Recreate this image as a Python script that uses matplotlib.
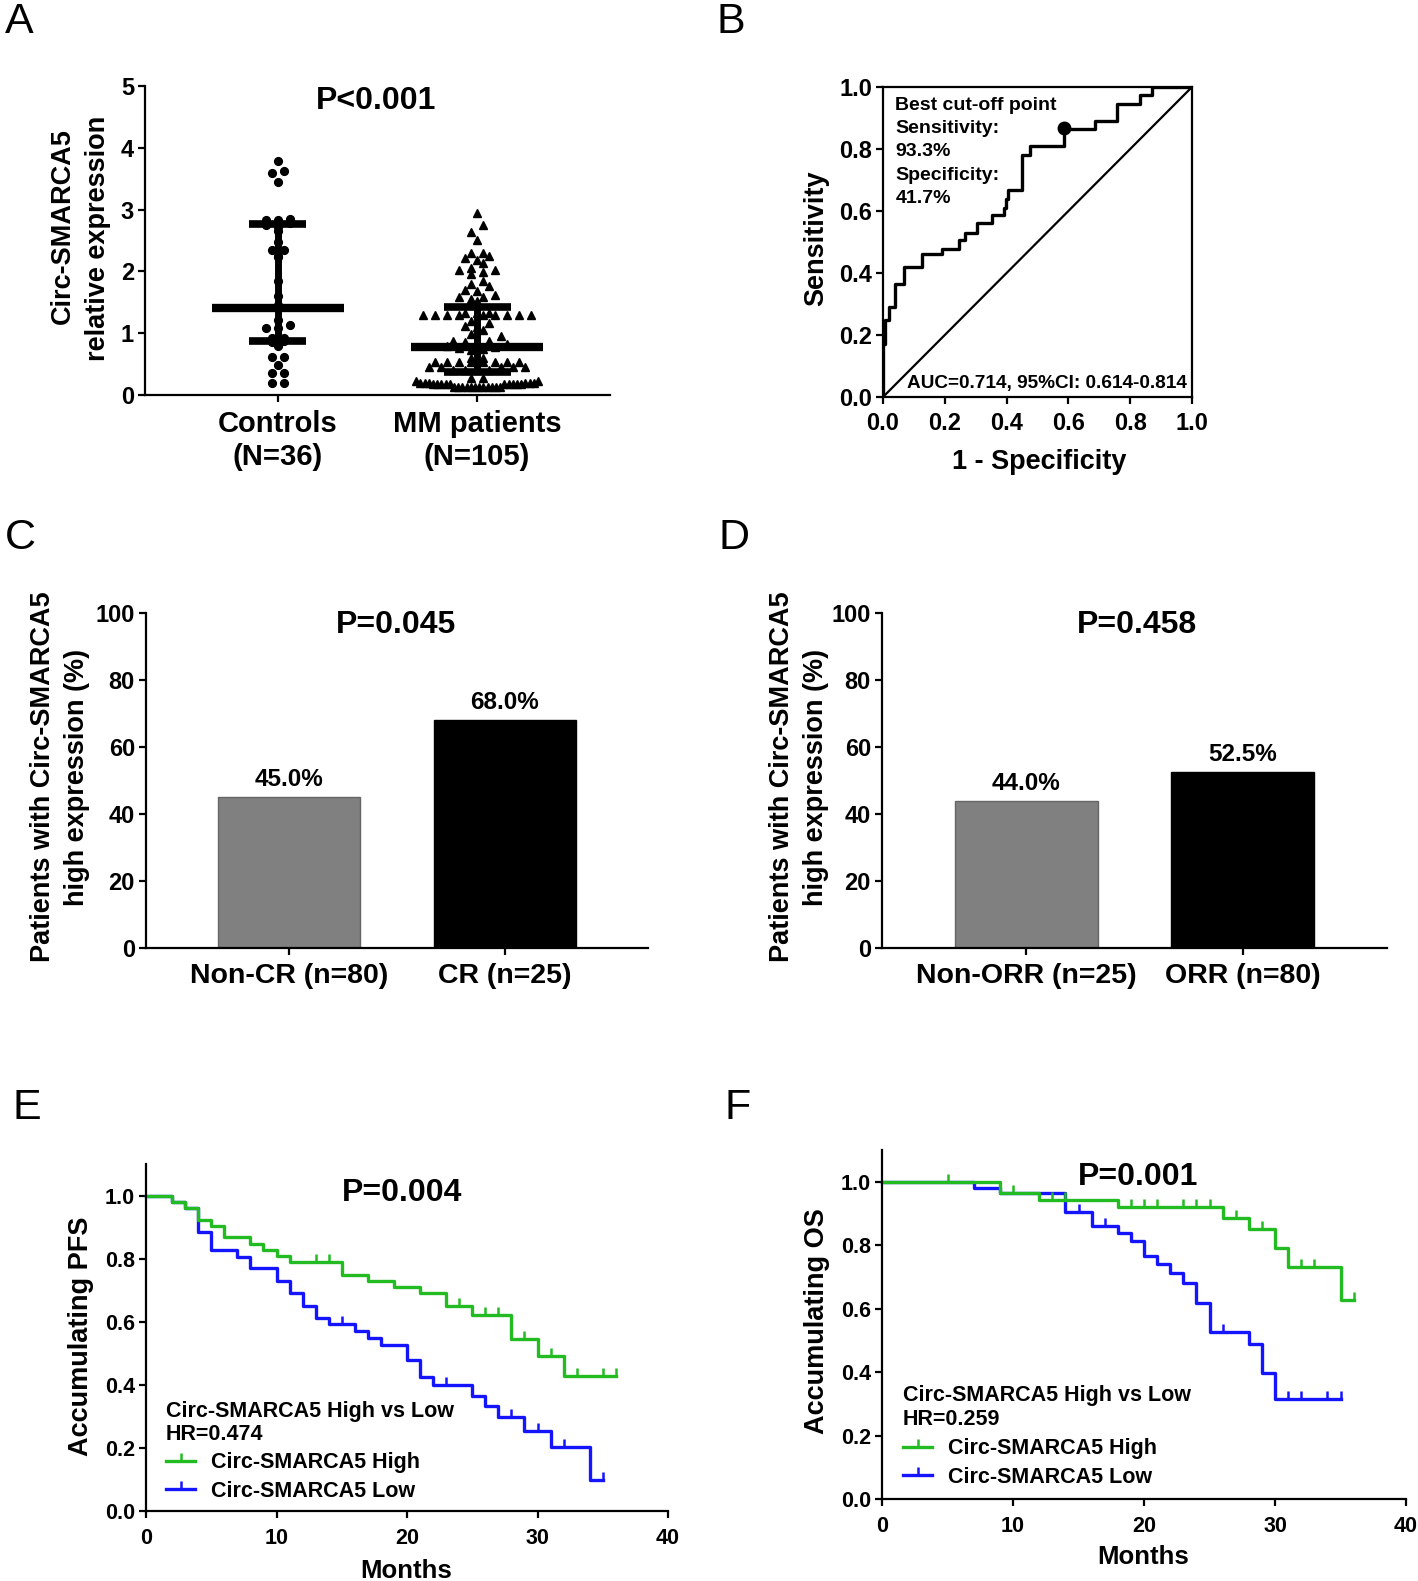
import numpy as np
import matplotlib
matplotlib.use('Agg')
import matplotlib.pyplot as plt
from matplotlib.path import Path
from matplotlib.lines import Line2D

# ---------------- data ----------------
groups_A = ["Controls\n(N=36)", "MM patients\n(N=105)"]
controls_vals = [3.78, 3.62, 3.60, 3.45, 2.84, 2.83, 2.83, 2.78, 2.75, 2.72, 2.65,
                 2.48, 2.35, 2.35, 2.25, 2.24, 1.85, 1.60, 1.45, 1.43, 1.22, 1.13,
                 1.08, 1.08, 0.92, 0.92, 0.88, 0.85, 0.80, 0.62, 0.62, 0.48, 0.36,
                 0.36, 0.19, 0.19]
mm_vals = [2.94, 2.75, 2.64, 2.51, 2.30, 2.29, 2.25, 2.21, 2.18, 2.13, 2.06, 2.02,
           2.02, 1.99, 1.96, 1.85, 1.80, 1.76, 1.70, 1.69, 1.62, 1.59, 1.58, 1.56,
           1.52,
           1.33, 1.33, 1.32, 1.30, 1.30, 1.30, 1.30, 1.30, 1.29, 1.29, 1.29, 1.29,
           1.20, 1.17, 1.12, 1.10, 1.05, 0.98, 0.95,
           0.87, 0.87, 0.85, 0.85, 0.82, 0.80, 0.78, 0.76, 0.75, 0.73,
           0.60, 0.60, 0.53, 0.53, 0.53, 0.53, 0.53, 0.53, 0.53, 0.53,
           0.45, 0.45, 0.45, 0.45, 0.45, 0.40, 0.40, 0.40, 0.40,
           0.27, 0.27,
           0.23, 0.23, 0.20, 0.20, 0.20, 0.20, 0.20, 0.20,
           0.17, 0.17, 0.17, 0.17, 0.17, 0.17, 0.17, 0.17, 0.17, 0.17,
           0.13, 0.13, 0.13, 0.13, 0.13, 0.13, 0.13, 0.13, 0.13, 0.13, 0.13, 0.13]
# [lower, median, upper]
controls_stats = [0.87, 1.40, 2.76]
mm_stats = [0.38, 0.78, 1.42]

# ROC: false-positive rate at which each vertical jump happens, and tpr after it
roc_fpr = [0.0, 0.0, 0.008, 0.018, 0.04, 0.067, 0.126, 0.19, 0.245, 0.266, 0.304,
           0.353, 0.39, 0.397, 0.405, 0.45, 0.477, 0.585, 0.687, 0.757, 0.833, 0.87]
roc_tpr = [0.0, 0.17, 0.247, 0.29, 0.366, 0.42, 0.46, 0.478, 0.505, 0.53, 0.56,
           0.586, 0.61, 0.64, 0.667, 0.78, 0.81, 0.865, 0.89, 0.946, 0.973, 1.0]
cutoff_point = (0.585, 0.868)

cats_C = ["Non-CR (n=80)", "CR (n=25)"]
vals_C = [45.0, 68.0]
cats_D = ["Non-ORR (n=25)", "ORR (n=80)"]
vals_D = [44.0, 52.5]
bar_colors = ["#808080", "#000000"]

pfs_high_t = [0, 2, 3, 4, 5, 6, 8, 9, 10, 11, 15, 17, 19, 21, 23, 25, 28, 30, 32, 36]
pfs_high_s = [1.0, 0.98, 0.961, 0.921, 0.902, 0.868, 0.847, 0.828, 0.809, 0.79, 0.748,
              0.729, 0.709, 0.69, 0.65, 0.621, 0.544, 0.49, 0.427, 0.427]
pfs_high_c = [13, 14, 24, 26, 27, 29, 31, 33, 35, 36]
pfs_low_t = [0, 2, 3, 4, 5, 7, 8, 10, 11, 12, 13, 14, 16, 17, 18, 20, 21, 22, 25, 26,
             27, 29, 31, 34, 35]
pfs_low_s = [1.0, 0.98, 0.961, 0.886, 0.828, 0.805, 0.769, 0.729, 0.69, 0.65, 0.613,
             0.592, 0.571, 0.547, 0.525, 0.478, 0.425, 0.398, 0.366, 0.334, 0.297,
             0.255, 0.202, 0.098, 0.098]
pfs_low_c = [15, 23, 28, 30, 32, 35]

os_high_t = [0, 9, 12, 18, 26, 28, 30, 31, 35, 36]
os_high_s = [1.0, 0.963, 0.942, 0.919, 0.887, 0.85, 0.79, 0.732, 0.626, 0.626]
os_high_c = [5, 10, 13, 14, 19, 20, 21, 23, 24, 25, 27, 29, 32, 33, 36]
os_low_t = [0, 7, 9, 14, 16, 18, 19, 20, 21, 22, 23, 24, 25, 28, 29, 30, 35]
os_low_s = [1.0, 0.98, 0.963, 0.905, 0.861, 0.837, 0.814, 0.766, 0.74, 0.711, 0.682,
            0.619, 0.526, 0.487, 0.398, 0.314, 0.314]
os_low_c = [15, 17, 26, 31, 32, 34, 35]

GREEN = "#22bb22"
BLUE = "#1414ff"

# ---------------- style ----------------
plt.rcParams['font.family'] = ['Liberation Sans', 'DejaVu Sans']
plt.rcParams['font.weight'] = 'bold'
plt.rcParams['axes.labelweight'] = 'bold'
plt.rcParams['axes.linewidth'] = 1.6
plt.rcParams['xtick.major.width'] = 1.6
plt.rcParams['ytick.major.width'] = 1.6
plt.rcParams['xtick.major.size'] = 5
plt.rcParams['ytick.major.size'] = 5

W, H = 1418, 1581
fig = plt.figure(figsize=(W / 100, H / 100), dpi=100)


def axes_px(left, top, right, bottom):
    return fig.add_axes([left / W, 1 - bottom / H, (right - left) / W, (bottom - top) / H])


def ftext(x, y, s, **kw):
    kw.setdefault('ha', 'center')
    kw.setdefault('va', 'center')
    return fig.text(x / W, 1 - y / H, s, **kw)


def open_axes(ax):
    ax.spines['top'].set_visible(False)
    ax.spines['right'].set_visible(False)


def row_scatter(ax, values, center, bin_h, sp_px, max_w_px):
    """GraphPad-like column scatter: values binned into rows, spread evenly."""
    bb = ax.get_window_extent()
    x0, x1 = ax.get_xlim()
    sx = bb.width / (x1 - x0)
    vals = np.asarray(values, float)
    bins = np.floor(vals / bin_h + 1e-9).astype(int)
    xs = np.zeros(len(vals))
    for b in np.unique(bins):
        idx = np.where(bins == b)[0]
        idx = idx[np.argsort(vals[idx])]
        n = len(idx)
        sp = sp_px if n < 2 else min(sp_px, max_w_px / (n - 1))
        offs = (np.arange(n) - (n - 1) / 2) * sp
        order = np.argsort(np.abs(offs), kind='stable')
        for k, j in zip(order, idx):
            xs[j] = center + offs[k] / sx
    return xs


# ---------------- Panel A ----------------
axA = axes_px(145, 86, 610, 395)
open_axes(axA)
axA.set_xlim(-0.667, 1.667)
axA.set_ylim(0, 5)
xc = row_scatter(axA, controls_vals, 0, 0.09, 12, 40)
xm = row_scatter(axA, mm_vals, 1, 0.12, 12, 122)
axA.plot(xc, controls_vals, 'o', color='k', ms=5.6, clip_on=False, zorder=3)
axA.plot(xm, mm_vals, '^', color='k', ms=6.2, clip_on=False, zorder=3)
for pos, st, cap in [(0, controls_stats, 0.143), (1, mm_stats, 0.168)]:
    axA.vlines(pos, st[0], st[2], color='k', lw=5, zorder=4)
    axA.hlines(st[1], pos - 0.33, pos + 0.33, color='k', lw=6, zorder=4)
    axA.hlines([st[0], st[2]], pos - cap, pos + cap, color='k', lw=5.5, zorder=4)
axA.set_xticks([0, 1])
axA.set_xticklabels(groups_A, fontsize=21, linespacing=1.22)
axA.set_yticks(range(0, 6))
axA.tick_params(axis='y', labelsize=17, pad=3)
axA.tick_params(axis='x', pad=6)
ftext(376, 101, "P<0.001", fontsize=23)
ftext(63, 226, "Circ-SMARCA5", fontsize=19.5, rotation=90)
ftext(98, 238, "relative expression", fontsize=19.5, rotation=90)
ftext(19, 22, "A", fontsize=31, fontweight='normal')

# ---------------- Panel B ----------------
axB = axes_px(883, 87, 1192, 397)
axB.set_xlim(0, 1)
axB.set_ylim(0, 1)
xs_roc = list(roc_fpr) + [1.0]
ys_roc = list(roc_tpr) + [roc_tpr[-1]]
axB.step(xs_roc, ys_roc, where='post', color='k', lw=2.4, zorder=3)
axB.plot([0, 1], [0, 1], color='k', lw=1.6)
axB.plot([cutoff_point[0]], [cutoff_point[1]], 'o', color='k', ms=9, zorder=4)
ticks = np.round(np.arange(0, 1.01, 0.2), 1)
axB.set_xticks(ticks)
axB.set_yticks(ticks)
axB.set_xticklabels([f"{t:.1f}" for t in ticks])
axB.set_yticklabels([f"{t:.1f}" for t in ticks])
axB.tick_params(labelsize=17, pad=3)
axB.tick_params(axis='x', pad=6)
axB.text(0.04, 0.967, "Best cut-off point\nSensitivity:\n93.3%\nSpecificity:\n41.7%",
         transform=axB.transAxes, ha='left', va='top', fontsize=14, linespacing=1.47)
axB.text(0.985, 0.045, "AUC=0.714, 95%CI: 0.614-0.814", transform=axB.transAxes,
         ha='right', va='center', fontsize=13.7)
ftext(1039, 462, "1 - Specificity", fontsize=19.5)
ftext(816, 238, "Sensitivity", fontsize=19.5, rotation=90)
ftext(731, 22, "B", fontsize=31, fontweight='normal')


# ---------------- Panels C & D ----------------
def bar_panel(rect, cats, vals, title, tx, letter, lx, ylx):
    ax = axes_px(*rect)
    open_axes(ax)
    ax.bar([0, 1], vals, width=0.66, color=bar_colors, edgecolor=['#666666', 'k'], lw=1)
    ax.set_xlim(-0.667, 1.667)
    ax.set_ylim(0, 100)
    ax.set_yticks(range(0, 101, 20))
    ax.set_xticks([0, 1])
    ax.set_xticklabels(cats, fontsize=20.5)
    ax.tick_params(axis='y', labelsize=17, pad=3)
    ax.tick_params(axis='x', pad=6)
    for i, v in enumerate(vals):
        ax.text(i, v + 5.2, f"{v:.1f}%", ha='center', va='center', fontsize=17.5)
    ftext(tx, 625, title, fontsize=23)
    ftext(ylx, 777, "Patients with Circ-SMARCA5\nhigh expression (%)",
          fontsize=19.5, rotation=90, linespacing=1.38)
    ftext(lx, 538, letter, fontsize=31, fontweight='normal')
    return ax


bar_panel((146, 613, 648, 948), cats_C, vals_C, "P=0.045", 396, "C", 20, 60)
bar_panel((882, 613, 1387, 948), cats_D, vals_D, "P=0.458", 1137, "D", 734, 799)

# ---------------- Panels E & F ----------------
tick_path = Path([(0, 0), (0, 1)], [Path.MOVETO, Path.LINETO])


def surv_at(t_arr, s_arr, tq):
    idx = np.searchsorted(np.asarray(t_arr), np.asarray(tq), side='right') - 1
    return np.asarray(s_arr)[idx]


def km_panel(rect, curves, title, tpos, ylabel, ylpos, xlpos, hr, txt_xy, leg_xy,
             letter, lpos):
    ax = axes_px(*rect)
    open_axes(ax)
    for t, s, c, col in curves:
        ax.step(t, s, where='post', color=col, lw=2.4, clip_on=False)
        ax.plot(c, surv_at(t, s, c), ls='none', marker=tick_path, ms=11, mew=1.8,
                color=col, clip_on=False)
    ax.set_xlim(0, 40)
    ax.set_ylim(0, 1.1)
    ax.set_xticks(range(0, 41, 10))
    ax.set_yticks(np.round(np.arange(0, 1.01, 0.2), 1))
    ax.set_yticklabels([f"{v:.1f}" for v in np.arange(0, 1.01, 0.2)])
    ax.tick_params(labelsize=15.5, pad=3)
    ax.tick_params(axis='x', pad=7)
    ftext(tpos[0], tpos[1], title, fontsize=23)
    ftext(ylpos[0], ylpos[1], ylabel, fontsize=19.5, rotation=90)
    ftext(xlpos[0], xlpos[1], "Months", fontsize=18.5)
    ftext(txt_xy[0], txt_xy[1], "Circ-SMARCA5 High vs Low", fontsize=15.5, ha='left')
    ftext(txt_xy[0], txt_xy[1] + 23.5, hr, fontsize=15.5, ha='left')
    handles = [Line2D([], [], color=GREEN, lw=2.4, marker=tick_path, ms=11, mew=1.8),
               Line2D([], [], color=BLUE, lw=2.4, marker=tick_path, ms=11, mew=1.8)]
    ax.legend(handles, ["Circ-SMARCA5 High", "Circ-SMARCA5 Low"], loc='center left',
              bbox_to_anchor=(leg_xy[0] / W, 1 - leg_xy[1] / H),
              bbox_transform=fig.transFigure, frameon=False, fontsize=15.5,
              handlelength=1.35, handletextpad=0.75, labelspacing=0.33,
              borderpad=0, borderaxespad=0, numpoints=1)
    ftext(lpos[0], lpos[1], letter, fontsize=31, fontweight='normal')
    return ax


km_panel((146, 1164, 668, 1511),
         [(pfs_low_t, pfs_low_s, pfs_low_c, BLUE), (pfs_high_t, pfs_high_s, pfs_high_c, GREEN)],
         "P=0.004", (402, 1193), "Accumulating PFS", (81, 1336), (406, 1571),
         "HR=0.474", (166, 1411), (166, 1477), "E", (27, 1108))
km_panel((882, 1150, 1406, 1499),
         [(os_low_t, os_low_s, os_low_c, BLUE), (os_high_t, os_high_s, os_high_c, GREEN)],
         "P=0.001", (1138, 1177), "Accumulating OS", (817, 1321), (1143, 1557),
         "HR=0.259", (903, 1396), (903, 1463), "F", (738, 1108))

fig.savefig("out.png", dpi=100)
